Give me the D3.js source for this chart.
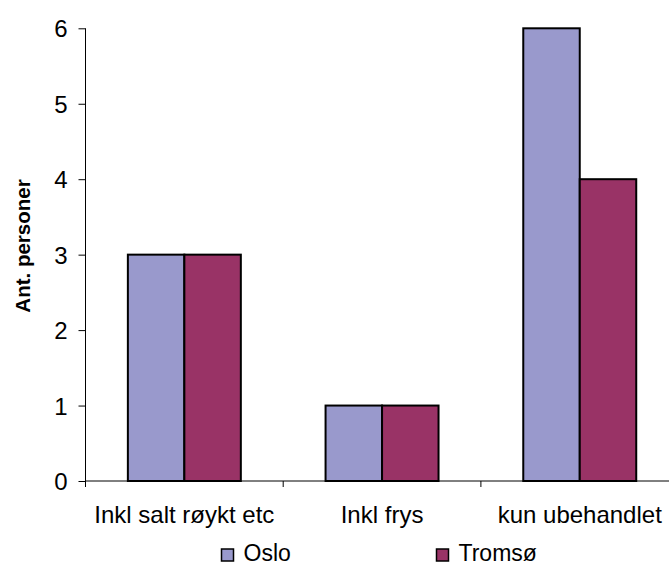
<!DOCTYPE html>
<html>
<head>
<meta charset="utf-8">
<script src="https://cdn.jsdelivr.net/npm/d3@7"></script>
<style>
  html, body { margin: 0; padding: 0; background: #fff; }
  svg { display: block; }
  text { font-family: "Liberation Sans", Arial, sans-serif; fill: #000; }
</style>
</head>
<body>
<svg id="chart" width="669" height="565"></svg>
<script>
// Kategorier og verdier
const categories = ["Inkl salt røykt etc", "Inkl frys", "kun ubehandlet"];
const seriesNames = ["Oslo", "Tromsø"];
const osloValues = [3, 1, 6];
const tromsoValues = [3, 1, 4];
const yTicks = [0, 1, 2, 3, 4, 5, 6];
const yTitle = "Ant. personer";

const colors = { "Oslo": "#9999cc", "Tromsø": "#993366" };
const seriesValues = { "Oslo": osloValues, "Tromsø": tromsoValues };

const svg = d3.select("#chart");
const W = 669, H = 565;

const plot = { left: 85.5, right: 678.6, top: 28.3, bottom: 481 };

const x = d3.scaleBand()
  .domain(categories)
  .range([plot.left, plot.right])
  .paddingInner(0).paddingOuter(0);

// Søylebredde: gap på 150 % av søylebredden
const barW = x.bandwidth() / (seriesNames.length + 1.5);
const xs = d3.scaleBand()
  .domain(seriesNames)
  .range([0, barW * seriesNames.length]);

const y = d3.scaleLinear().domain([0, 6]).range([plot.bottom, plot.top]);

// Søyler
const groups = svg.append("g").selectAll("g")
  .data(categories)
  .join("g")
  .attr("transform", d => `translate(${x(d) + (x.bandwidth() - barW * seriesNames.length) / 2},0)`);

groups.selectAll("rect")
  .data((c, i) => seriesNames.map(s => ({ s, v: seriesValues[s][i] })))
  .join("rect")
  .attr("x", d => xs(d.s))
  .attr("width", xs.bandwidth())
  .attr("y", d => y(d.v))
  .attr("height", d => y(0) - y(d.v))
  .attr("fill", d => colors[d.s])
  .attr("stroke", "#000")
  .attr("stroke-width", 2);

// Y-akse
const yAxis = d3.axisLeft(y).tickValues(yTicks).tickSize(7).tickPadding(11).tickFormat(d3.format("d"));
const gy = svg.append("g").attr("transform", `translate(${plot.left},0)`).call(yAxis);
gy.select(".domain").attr("d", `M0,${plot.top}V${plot.bottom + 6}`).attr("stroke", "#000");
gy.selectAll(".tick line").attr("stroke", "#000");
gy.selectAll(".tick text").style("font-size", "24px").style("font-family", "Liberation Sans, Arial, sans-serif").attr("dy", "0.36em");

// X-akse
const gx = svg.append("g").attr("transform", `translate(0,${plot.bottom})`);
gx.append("line").attr("x1", plot.left).attr("x2", W).attr("y1", 0).attr("y2", 0).attr("stroke", "#000");
const bounds = categories.map(c => x(c));
gx.selectAll("line.tk").data(bounds).join("line").attr("class", "tk")
  .attr("x1", d => d).attr("x2", d => d).attr("y1", 0).attr("y2", 6).attr("stroke", "#000");
gx.selectAll("text").data(categories).join("text")
  .attr("x", d => x(d) + x.bandwidth() / 2)
  .attr("y", 42)
  .attr("text-anchor", "middle")
  .style("font-size", "24px")
  .text(d => d);

// Aksetittel
svg.append("text")
  .attr("transform", `translate(30,246) rotate(-90)`)
  .attr("text-anchor", "middle")
  .style("font-size", "20.5px")
  .style("font-weight", "bold")
  .text(yTitle);

// Tegnforklaring
const legendX = [221.5, 436.5];
const lg = svg.append("g").selectAll("g").data(seriesNames).join("g")
  .attr("transform", (d, i) => `translate(${legendX[i]},0)`);
lg.append("rect").attr("x", 0).attr("y", 549).attr("width", 12).attr("height", 12)
  .attr("fill", d => colors[d]).attr("stroke", "#000").attr("stroke-width", 1.5);
lg.append("text").attr("x", 22).attr("y", 560.5).style("font-size", "23px").text(d => d);
</script>
</body>
</html>
